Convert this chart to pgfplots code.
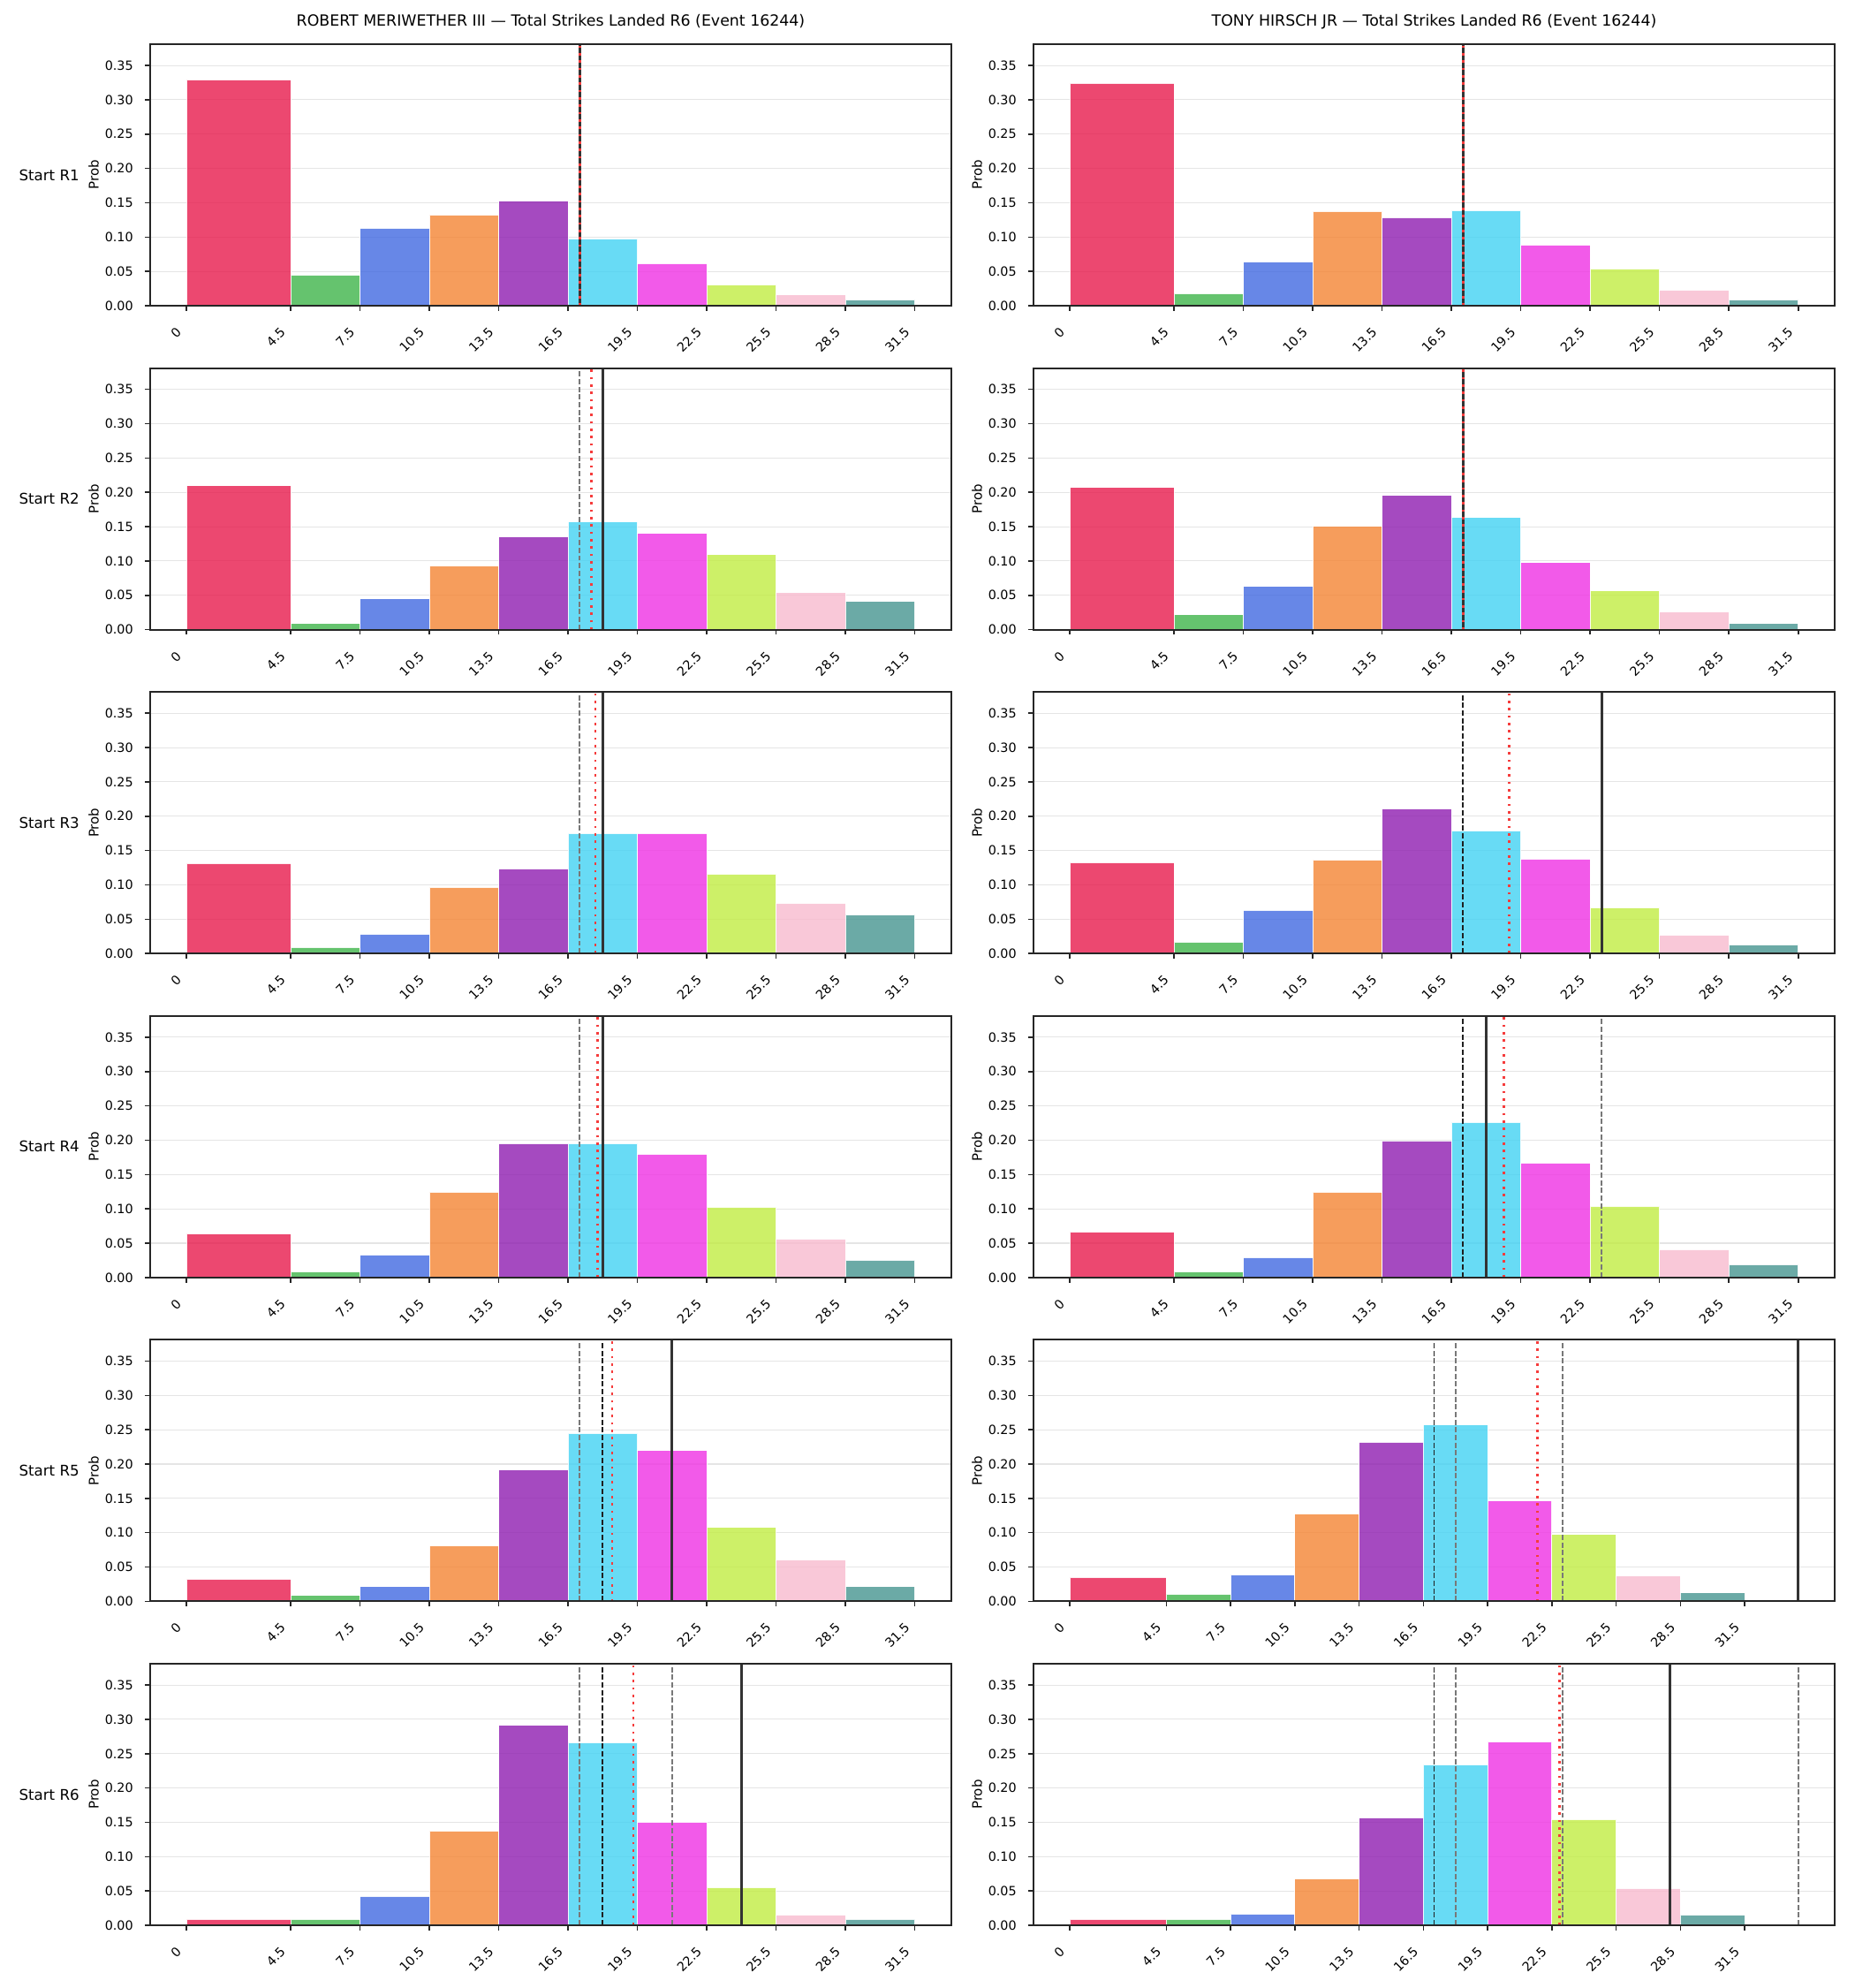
\documentclass[border=0pt]{standalone}
\usepackage{pgfplots}
\pgfplotsset{compat=1.18}
\usepackage{fontspec}
\setmainfont{DejaVu Sans}

% bin colours (drawn at 80% opacity)
\definecolor{c1}{RGB}{231,26,76}
\definecolor{c2}{RGB}{63,180,74}
\definecolor{c3}{RGB}{65,105,225}
\definecolor{c4}{RGB}{244,132,51}
\definecolor{c5}{RGB}{142,29,176}
\definecolor{c6}{RGB}{66,210,243}
\definecolor{c7}{RGB}{239,49,227}
\definecolor{c8}{RGB}{193,236,66}
\definecolor{c9}{RGB}{248,186,206}
\definecolor{c10}{RGB}{70,149,144}
\definecolor{refred}{RGB}{245,60,60}

\tikzset{rowlab/.style={anchor=east, inner sep=0pt, xshift=-57.6pt, font=\fontsize{12}{14}\selectfont}}

\pgfplotsset{
  layers/gridbelow/.define layer set={axis background,axis grid,main,axis ticks,axis lines,axis tick labels,axis descriptions,axis foreground}{/pgfplots/layers/standard},
  hist/.style={
    set layers=gridbelow, clip=false,
    scale only axis, width=653pt, height=213.1pt, anchor=south west,
    xmin=-1.575, xmax=33.075, ymin=0, ymax=0.381,
    axis line style={draw=black!85, line width=1.3pt},
    tick align=outside, tick pos=left,
    major tick length=4.2pt,
    every tick/.style={black!85, line width=1.1pt},
    xtick={0,4.5,7.5,10.5,13.5,16.5,19.5,22.5,25.5,28.5,31.5},
    xticklabels={0,4.5,7.5,10.5,13.5,16.5,19.5,22.5,25.5,28.5,31.5},
    ytick={0,0.05,0.1,0.15,0.2,0.25,0.3,0.35},
    tick label style={font=\fontsize{10.3}{12}\selectfont},
    xticklabel style={xshift=-3.8pt, yshift=-13pt, rotate=45, anchor=east},
    yticklabel style={xshift=-6.2pt, /pgf/number format/fixed, /pgf/number format/fixed zerofill, /pgf/number format/precision=2, /pgf/number format/assume math mode=true},
    ymajorgrids, grid style={black!10, line width=0.75pt},
    ylabel=Prob,
    every axis y label/.style={at={(axis description cs:0,0.5)}, xshift=-46pt, rotate=90, anchor=center, font=\fontsize{10.8}{12}\selectfont},
    title style={at={(0.5,1)}, anchor=base, yshift=8.6pt, font=\fontsize{12.5}{15}\selectfont},
  },
  wide/.style={xmin=-1.7, xmax=35.7},
  binbar/.style={draw=white, line width=0.7pt, fill opacity=0.8, draw opacity=0.9},
}

% one bar of the histogram: colour, left edge, right edge, probability
\newcommand\bin[4]{\addplot[binbar, fill=#1] coordinates {(#2,#4) (#3,#4)} \closedcycle;}
% ten bins: 0-4.5, 4.5-7.5, ..., 28.5-31.5
\def\histo#1,#2,#3,#4,#5,#6,#7,#8,#9;{%
  \bin{c1}{0}{4.5}{#1}\bin{c2}{4.5}{7.5}{#2}\bin{c3}{7.5}{10.5}{#3}%
  \bin{c4}{10.5}{13.5}{#4}\bin{c5}{13.5}{16.5}{#5}\bin{c6}{16.5}{19.5}{#6}%
  \bin{c7}{19.5}{22.5}{#7}\bin{c8}{22.5}{25.5}{#8}\histotail#9;}
\def\histotail#1,#2;{\bin{c9}{25.5}{28.5}{#1}\bin{c10}{28.5}{31.5}{#2}}

% reference lines
\newcommand\vsolid[1]{\addplot[black!80, line width=2.1pt] coordinates {(#1,0) (#1,0.381)};}
\newcommand\vdashed[1]{\addplot[black!88, line width=1.3pt, dash pattern=on 4.3pt off 1.95pt] coordinates {(#1,0) (#1,0.381)};}
\newcommand\vgray[1]{\addplot[black!53, line width=1.3pt, dash pattern=on 4.3pt off 1.95pt] coordinates {(#1,0) (#1,0.381)};}
\newcommand\vred[1]{\addplot[refred, line width=1.9pt, dash pattern=on 2pt off 4pt] coordinates {(#1,0) (#1,0.381)};}

\begin{document}
\begin{tikzpicture}
% page frame
\path (0,0) rectangle (1512pt,1620pt);

% ---------- row 1 ----------
\begin{axis}[hist, at={(122.4pt,1370.9pt)}, title={ROBERT MERIWETHER III — Total Strikes Landed R6 (Event 16244)}]
\histo 0.3294,0.0447,0.1129,0.1323,0.1529,0.0975,0.0614,0.0305,0.0155,0.0086;
\vsolid{17}\vred{17}
\node[rowlab] at (rel axis cs:0,0.5) {Start R1};
\end{axis}
\begin{axis}[hist, at={(842.4pt,1370.9pt)}, title={TONY HIRSCH JR — Total Strikes Landed R6 (Event 16244)}]
\histo 0.3238,0.0176,0.0640,0.1374,0.1284,0.1387,0.0885,0.0537,0.0228,0.0086;
\vsolid{17}\vred{17}
\end{axis}

% ---------- row 2 ----------
\begin{axis}[hist, at={(122.4pt,1106.9pt)}]
\histo 0.2096,0.0086,0.0451,0.0928,0.1353,0.1567,0.1404,0.1091,0.0537,0.0408;
\vgray{17}\vsolid{18}\vred{17.5}
\node[rowlab] at (rel axis cs:0,0.5) {Start R2};
\end{axis}
\begin{axis}[hist, at={(842.4pt,1106.9pt)}]
\histo 0.2070,0.0215,0.0627,0.1503,0.1954,0.1632,0.0975,0.0563,0.0253,0.0086;
\vsolid{17}\vred{17}
\end{axis}

% ---------- row 3 ----------
\begin{axis}[hist, at={(122.4pt,843.0pt)}]
\histo 0.1310,0.0086,0.0279,0.0962,0.1232,0.1748,0.1748,0.1155,0.0730,0.0563;
\vgray{17}\vsolid{18}\vred{17.68}
\node[rowlab] at (rel axis cs:0,0.5) {Start R3};
\end{axis}
\begin{axis}[hist, at={(842.4pt,843.0pt)}]
\histo 0.1323,0.0163,0.0627,0.1361,0.2109,0.1786,0.1374,0.0666,0.0266,0.0125;
\vdashed{17}\vsolid{23}\vred{19.0}
\end{axis}

% ---------- row 4 ----------
\begin{axis}[hist, at={(122.4pt,579.0pt)}]
\histo 0.0640,0.0086,0.0331,0.1245,0.1954,0.1954,0.1799,0.1026,0.0563,0.0253;
\vgray{17}\vsolid{18}\vred{17.78}
\node[rowlab] at (rel axis cs:0,0.5) {Start R4};
\end{axis}
\begin{axis}[hist, at={(842.4pt,579.0pt)}]
\histo 0.0666,0.0086,0.0292,0.1245,0.1993,0.2263,0.1671,0.1039,0.0408,0.0189;
\vgray{23}\vdashed{17}\vsolid{18}\vred{18.78}
\end{axis}

% ---------- row 5 ----------
\begin{axis}[hist, at={(122.4pt,315.1pt)}]
\histo 0.0322,0.0086,0.0215,0.0807,0.1915,0.2444,0.2199,0.1078,0.0601,0.0215;
\vgray{17}\vdashed{18}\vsolid{21}\vred{18.4}
\node[rowlab] at (rel axis cs:0,0.5) {Start R5};
\end{axis}
\begin{axis}[hist, wide, at={(842.4pt,315.1pt)}]
\histo 0.0348,0.0103,0.0387,0.1275,0.2319,0.2572,0.1464,0.0975,0.0369,0.0125;
\vgray{18}\vgray{23}\vdashed{17}\vsolid{34}\vred{21.82}
\end{axis}

% ---------- row 6 ----------
\begin{axis}[hist, at={(122.4pt,51.1pt)}]
\histo 0.0086,0.0086,0.0421,0.1374,0.2912,0.2663,0.1503,0.0550,0.0150,0.0086;
\vgray{17}\vgray{21}\vdashed{18}\vsolid{24}\vred{19.32}
\node[rowlab] at (rel axis cs:0,0.5) {Start R6};
\end{axis}
\begin{axis}[hist, wide, at={(842.4pt,51.1pt)}]
\histo 0.0086,0.0086,0.0163,0.0679,0.1567,0.2340,0.2675,0.1542,0.0537,0.0150;
\vgray{18}\vgray{23}\vgray{34}\vdashed{17}\vsolid{28}\vred{22.86}
\end{axis}
\end{tikzpicture}
\end{document}
